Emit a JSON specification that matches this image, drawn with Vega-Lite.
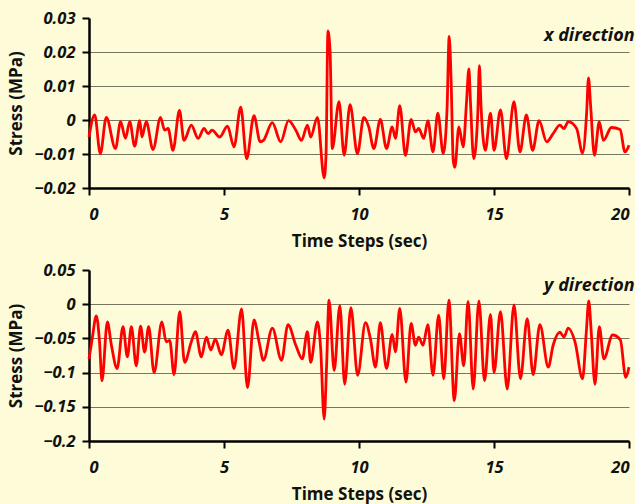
{
  "$schema": "https://vega.github.io/schema/vega-lite/v6.json",
  "background": "#FEFCD8",
  "padding": {"left": 7, "top": 10, "right": 0, "bottom": 2},
  "spacing": 12,
  "config": {
    "view": {"stroke": null},
    "font": "Open Sans",
    "title": {"anchor": "end", "font": "Open Sans", "fontSize": 18, "fontStyle": "italic", "fontWeight": "bold", "color": "#111111", "orient": "top"},
    "axis": {
      "labelFont": "Open Sans", "labelFontSize": 16.5, "labelFontStyle": "italic", "labelFontWeight": "bold", "labelColor": "#111111", "labelOverlap": false,
      "titleFont": "Open Sans", "titleFontSize": 17, "titleFontWeight": "bold", "titleColor": "#111111",
      "domainColor": "#000000", "domainWidth": 2.5, "tickColor": "#000000", "tickWidth": 2, "tickSize": 7
    },
    "axisX": {"grid": false, "labelPadding": 11, "titlePadding": 11},
    "axisY": {"grid": true, "gridColor": "#77775f", "gridWidth": 1.2, "labelPadding": 7, "titlePadding": 8}
  },
  "datasets": {
    "xd": [
      {"t":0,"v":-0.005},{"t":0.21,"v":0.0015},{"t":0.42,"v":-0.0099},{"t":0.64,"v":0.0008},{"t":0.98,"v":-0.0084},{"t":1.17,"v":-0.0005},{"t":1.35,"v":-0.0054},{"t":1.51,"v":-0.0005},{"t":1.69,"v":-0.0077},{"t":1.88,"v":-0.0002},{"t":1.96,"v":-0.005},{"t":2.12,"v":-0.0005},{"t":2.37,"v":-0.0087},{"t":2.65,"v":0.0008},{"t":2.8,"v":-0.003},{"t":2.93,"v":-0.0025},{"t":3.11,"v":-0.0089},{"t":3.35,"v":0.0028},{"t":3.52,"v":-0.006},{"t":3.79,"v":-0.0015},{"t":4.04,"v":-0.0054},{"t":4.26,"v":-0.0025},{"t":4.41,"v":-0.004},{"t":4.56,"v":-0.003},{"t":4.84,"v":-0.005},
      {"t":5.13,"v":-0.0018},{"t":5.37,"v":-0.0079},{"t":5.62,"v":0.0038},{"t":5.84,"v":-0.0114},{"t":6.11,"v":0.0013},{"t":6.34,"v":-0.0064},{"t":6.46,"v":-0.006},{"t":6.79,"v":-0.0008},{"t":7.1,"v":-0.0064},{"t":7.39,"v":-0.0002},{"t":7.66,"v":-0.003},{"t":7.87,"v":-0.006},{"t":8.09,"v":-0.0015},{"t":8.21,"v":-0.005},{"t":8.46,"v":0.0008},{"t":8.71,"v":-0.017},{"t":8.78,"v":-0.01},{"t":8.85,"v":0.0262},{"t":8.93,"v":0.0198},{"t":9.01,"v":-0.0084},{"t":9.26,"v":0.0054},{"t":9.45,"v":-0.0104},{"t":9.67,"v":0.0045},{"t":9.94,"v":-0.0099},
      {"t":10.18,"v":0.0008},{"t":10.36,"v":-0.002},{"t":10.55,"v":-0.0084},{"t":10.79,"v":0.0002},{"t":11.02,"v":-0.0084},{"t":11.23,"v":-0.002},{"t":11.35,"v":-0.0054},{"t":11.51,"v":0.0042},{"t":11.72,"v":-0.0104},{"t":11.93,"v":0.0002},{"t":12.09,"v":-0.0035},{"t":12.21,"v":-0.0025},{"t":12.4,"v":-0.0054},{"t":12.55,"v":-0.0002},{"t":12.74,"v":-0.0094},{"t":12.92,"v":0.002},{"t":13.12,"v":-0.0099},{"t":13.26,"v":0.003},{"t":13.34,"v":0.0246},{"t":13.41,"v":0.012},{"t":13.49,"v":-0.0119},{"t":13.55,"v":-0.0139},{"t":13.7,"v":-0.002},{"t":13.86,"v":-0.0079},{"t":13.98,"v":0.005},{"t":14.07,"v":0.015},{"t":14.13,"v":0.005},{"t":14.25,"v":-0.0114},{"t":14.4,"v":0.002},{"t":14.46,"v":0.016},{"t":14.52,"v":0.004},{"t":14.68,"v":-0.0089},{"t":14.87,"v":0.002},{"t":15.0,"v":-0.0089},
      {"t":15.24,"v":0.003},{"t":15.46,"v":-0.0114},{"t":15.74,"v":0.0054},{"t":15.96,"v":-0.0094},{"t":16.2,"v":0.0015},{"t":16.43,"v":-0.0089},{"t":16.67,"v":-0.0002},{"t":16.95,"v":-0.0064},{"t":17.19,"v":-0.004},{"t":17.44,"v":-0.0015},{"t":17.59,"v":-0.0025},{"t":17.75,"v":-0.0005},{"t":18.06,"v":-0.0025},{"t":18.28,"v":-0.0097},{"t":18.43,"v":0.002},{"t":18.5,"v":0.0124},{"t":18.58,"v":0.004},{"t":18.72,"v":-0.0104},{"t":18.9,"v":-0.0005},{"t":19.05,"v":-0.006},{"t":19.35,"v":-0.0022},{"t":19.67,"v":-0.0028},{"t":19.85,"v":-0.0094},{"t":20,"v":-0.0074}
    ],
    "yd": [
      {"t":0,"v":-0.08},{"t":0.12,"v":-0.05},{"t":0.27,"v":-0.017},{"t":0.39,"v":-0.055},{"t":0.48,"v":-0.112},{"t":0.68,"v":-0.026},{"t":0.83,"v":-0.06},{"t":1.04,"v":-0.094},{"t":1.26,"v":-0.033},{"t":1.42,"v":-0.077},{"t":1.57,"v":-0.033},{"t":1.75,"v":-0.09},{"t":1.91,"v":-0.032},{"t":2.06,"v":-0.07},{"t":2.21,"v":-0.033},{"t":2.41,"v":-0.1},{"t":2.7,"v":-0.026},{"t":2.86,"v":-0.055},{"t":2.99,"v":-0.053},{"t":3.15,"v":-0.103},{"t":3.36,"v":-0.011},{"t":3.54,"v":-0.085},{"t":3.79,"v":-0.055},{"t":3.94,"v":-0.04},{"t":4.16,"v":-0.077},{"t":4.35,"v":-0.048},{"t":4.51,"v":-0.067},{"t":4.68,"v":-0.051},{"t":4.9,"v":-0.074},
      {"t":5.15,"v":-0.038},{"t":5.37,"v":-0.094},{"t":5.65,"v":-0.007},{"t":5.87,"v":-0.122},{"t":6.11,"v":-0.023},{"t":6.3,"v":-0.055},{"t":6.46,"v":-0.082},{"t":6.79,"v":-0.035},{"t":7.13,"v":-0.082},{"t":7.37,"v":-0.03},{"t":7.66,"v":-0.06},{"t":7.9,"v":-0.08},{"t":8.09,"v":-0.04},{"t":8.21,"v":-0.085},{"t":8.46,"v":-0.026},{"t":8.58,"v":-0.065},{"t":8.71,"v":-0.168},{"t":8.8,"v":-0.09},{"t":8.89,"v":0.006},{"t":9.08,"v":-0.097},{"t":9.29,"v":-0.002},{"t":9.47,"v":-0.117},{"t":9.7,"v":-0.005},{"t":9.95,"v":-0.104},
      {"t":10.24,"v":-0.027},{"t":10.42,"v":-0.05},{"t":10.61,"v":-0.092},{"t":10.79,"v":-0.027},{"t":11.02,"v":-0.094},{"t":11.23,"v":-0.044},{"t":11.35,"v":-0.07},{"t":11.51,"v":-0.006},{"t":11.74,"v":-0.114},{"t":11.93,"v":-0.028},{"t":12.09,"v":-0.06},{"t":12.21,"v":-0.048},{"t":12.37,"v":-0.06},{"t":12.55,"v":-0.03},{"t":12.74,"v":-0.104},{"t":12.95,"v":-0.016},{"t":13.14,"v":-0.109},{"t":13.33,"v":0.006},{"t":13.53,"v":-0.141},{"t":13.72,"v":-0.043},{"t":13.88,"v":-0.09},{"t":14.04,"v":0.004},{"t":14.23,"v":-0.124},{"t":14.44,"v":0.005},{"t":14.65,"v":-0.112},{"t":14.87,"v":-0.015},{"t":15.0,"v":-0.1},
      {"t":15.24,"v":-0.011},{"t":15.49,"v":-0.124},{"t":15.74,"v":-0.001},{"t":15.98,"v":-0.109},{"t":16.23,"v":-0.021},{"t":16.45,"v":-0.103},{"t":16.7,"v":-0.03},{"t":17.01,"v":-0.092},{"t":17.19,"v":-0.06},{"t":17.44,"v":-0.041},{"t":17.59,"v":-0.048},{"t":17.75,"v":-0.035},{"t":18.0,"v":-0.055},{"t":18.28,"v":-0.109},{"t":18.42,"v":-0.04},{"t":18.51,"v":0.005},{"t":18.6,"v":-0.04},{"t":18.74,"v":-0.117},{"t":18.9,"v":-0.033},{"t":19.07,"v":-0.08},{"t":19.39,"v":-0.045},{"t":19.68,"v":-0.052},{"t":19.88,"v":-0.107},{"t":20,"v":-0.092}
    ]
  },
  "vconcat": [
    {
      "width": 540,
      "height": 170,
      "title": {"text": "x direction", "offset": -35},
      "data": {"name": "xd"},
      "mark": {"type": "line", "color": "#FF0000", "strokeWidth": 2.8, "interpolate": "monotone"},
      "encoding": {
        "x": {"field": "t", "type": "quantitative", "scale": {"domain": [0, 20], "nice": false},
              "axis": {"values": [0, 5, 10, 15, 20], "format": "d", "title": "Time Steps (sec)"}},
        "y": {"field": "v", "type": "quantitative", "scale": {"domain": [-0.02, 0.03], "nice": false},
              "axis": {"values": [-0.02, -0.01, 0, 0.01, 0.02, 0.03], "format": "~g", "title": "Stress (MPa)",
                       "gridOpacity": {"condition": {"test": "datum.value > 0.025", "value": 0}, "value": 1}}}
      }
    },
    {
      "width": 540,
      "height": 171,
      "title": {"text": "y direction", "offset": -33},
      "data": {"name": "yd"},
      "mark": {"type": "line", "color": "#FF0000", "strokeWidth": 2.8, "interpolate": "monotone"},
      "encoding": {
        "x": {"field": "t", "type": "quantitative", "scale": {"domain": [0, 20], "nice": false},
              "axis": {"values": [0, 5, 10, 15, 20], "format": "d", "title": "Time Steps (sec)"}},
        "y": {"field": "v", "type": "quantitative", "scale": {"domain": [-0.2, 0.05], "nice": false},
              "axis": {"values": [-0.2, -0.15, -0.1, -0.05, 0, 0.05], "format": "~g", "title": "Stress (MPa)",
                       "gridOpacity": {"condition": {"test": "datum.value > 0.04", "value": 0}, "value": 1}}}
      }
    }
  ]
}
